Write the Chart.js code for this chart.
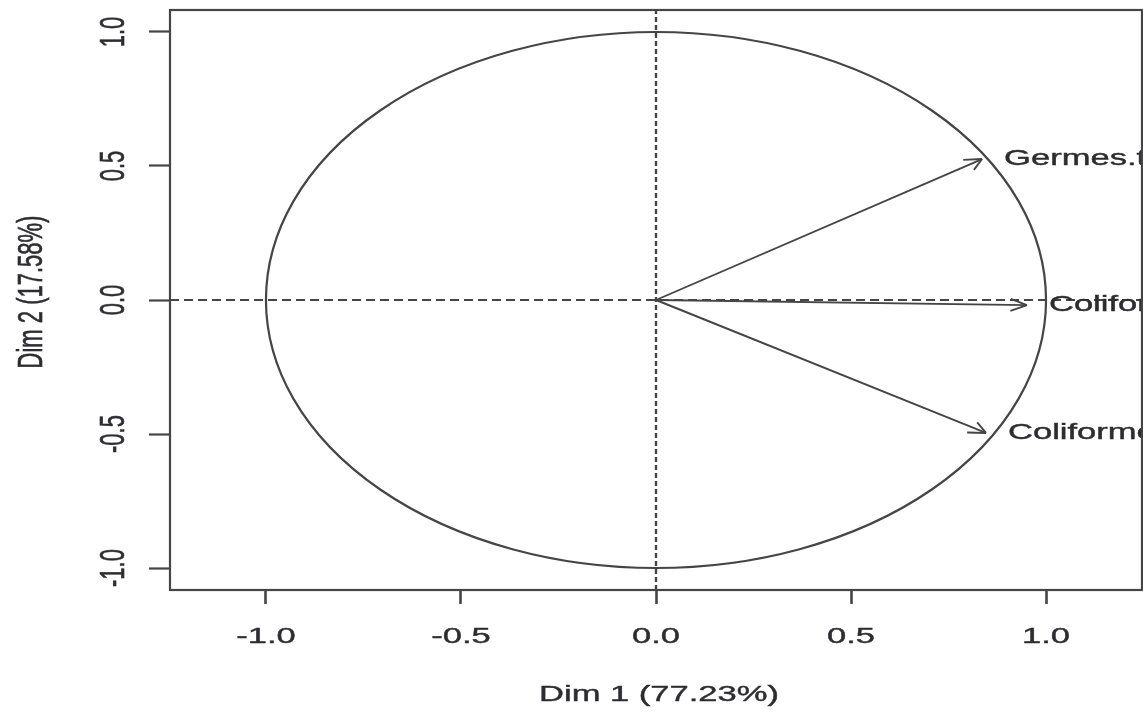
<!DOCTYPE html>
<html>
<head>
<meta charset="utf-8">
<title>Variables factor map (PCA)</title>
<script src="https://cdn.jsdelivr.net/npm/chart.js@4/dist/chart.umd.min.js"></script>
<style>
  html, body { margin: 0; padding: 0; background: #ffffff; }
  canvas { display: block; }
</style>
</head>
<body>
<canvas id="c" width="1143" height="713"></canvas>
<script>
// ---- data ----
const varNames = ['Germes.totaux', 'Coliformes.totaux', 'Coliformes.fecaux'];
const dim1 = [0.836, 0.951, 0.846];
const dim2 = [0.526, -0.019, -0.496];
const tickValues = [-1.0, -0.5, 0.0, 0.5, 1.0];
const tickLabels = ['-1.0', '-0.5', '0.0', '0.5', '1.0'];
const xTitle = 'Dim 1 (77.23%)';
const yTitle = 'Dim 2 (17.58%)';
const xRange = [-1.246, 1.246];
const yRange = [-1.082, 1.082];

// ---- styles ----
const LINE = '#454545';
const TEXT = '#2c2c32';
const FONT = '22px "Liberation Sans", Arial, sans-serif';
const SX = 1.57; // horizontal stretch of the original picture

function labelFor(v) {
  const i = tickValues.findIndex(t => Math.abs(t - v) < 1e-9);
  return i >= 0 ? tickLabels[i] : v.toFixed(1);
}

function stretchedText(ctx, text, x, y, align, rotate) {
  ctx.save();
  ctx.translate(x, y);
  ctx.scale(SX, 1);
  if (rotate) ctx.rotate(-Math.PI / 2);
  ctx.textAlign = align;
  ctx.textBaseline = 'middle';
  ctx.lineWidth = 0.4;
  ctx.strokeStyle = TEXT;
  ctx.fillText(text, 0, 0);
  ctx.strokeText(text, 0, 0);
  ctx.restore();
}

const arrowDatasets = varNames.map((n, i) => ({
  label: n,
  data: [{x: 0, y: 0}, {x: dim1[i], y: dim2[i]}],
  showLine: true,
  borderColor: LINE,
  borderWidth: 1.9,
  pointRadius: 0,
  fill: false
}));

const refDatasets = [
  {
    label: 'h0',
    data: [{x: xRange[0], y: 0}, {x: xRange[1], y: 0}],
    showLine: true, borderColor: LINE, borderWidth: 1.9, borderDash: [9, 5],
    pointRadius: 0, fill: false
  },
  {
    label: 'v0',
    data: [{x: 0, y: yRange[0]}, {x: 0, y: yRange[1]}],
    showLine: true, borderColor: LINE, borderWidth: 2.4, borderDash: [5, 3],
    pointRadius: 0, fill: false
  }
];

const pcaPlugin = {
  id: 'pcaPlugin',
  beforeDatasetsDraw(chart) {
    const {ctx, chartArea: a, scales: {x, y}} = chart;
    ctx.save();
    ctx.beginPath();
    ctx.rect(a.left, a.top, a.right - a.left, a.bottom - a.top);
    ctx.clip();
    const cx = x.getPixelForValue(0), cy = y.getPixelForValue(0);
    const rx = Math.abs(x.getPixelForValue(1) - cx);
    const ry = Math.abs(y.getPixelForValue(1) - cy);
    ctx.beginPath();
    ctx.ellipse(cx, cy, rx, ry, 0, 0, Math.PI * 2);
    ctx.strokeStyle = LINE;
    ctx.lineWidth = 2.2;
    ctx.stroke();
    ctx.restore();
  },
  afterDatasetsDraw(chart) {
    const {ctx, chartArea: a, scales: {x, y}} = chart;
    ctx.save();
    // arrow heads
    ctx.strokeStyle = LINE;
    ctx.lineWidth = 1.9;
    const x0 = x.getPixelForValue(0), y0 = y.getPixelForValue(0);
    for (let i = 0; i < varNames.length; i++) {
      const tx = x.getPixelForValue(dim1[i]);
      const ty = y.getPixelForValue(dim2[i]);
      const ang = Math.atan2(ty - y0, (tx - x0) / SX);
      const L = 12, da = Math.PI / 6;
      ctx.beginPath();
      for (const s of [-1, 1]) {
        const bx = tx - SX * L * Math.cos(ang + s * da);
        const by = ty - L * Math.sin(ang + s * da);
        ctx.moveTo(bx, by);
        ctx.lineTo(tx, ty);
      }
      ctx.stroke();
    }
    // variable labels
    ctx.fillStyle = TEXT;
    ctx.font = FONT;
    for (let i = 0; i < varNames.length; i++) {
      const tx = x.getPixelForValue(dim1[i]);
      const ty = y.getPixelForValue(dim2[i]);
      stretchedText(ctx, varNames[i], tx + 22, ty, 'left', false);
    }
    ctx.restore();
  },
  afterDraw(chart) {
    const {ctx, chartArea: a, scales: {x, y}} = chart;
    ctx.save();
    // plot box
    ctx.strokeStyle = LINE;
    ctx.lineWidth = 2.2;
    ctx.strokeRect(a.left, a.top, a.right - a.left, a.bottom - a.top);
    // tick labels
    ctx.fillStyle = TEXT;
    ctx.font = FONT;
    x.ticks.forEach(t => {
      stretchedText(ctx, labelFor(t.value), x.getPixelForValue(t.value), 637, 'center', false);
    });
    y.ticks.forEach(t => {
      stretchedText(ctx, labelFor(t.value), 114, y.getPixelForValue(t.value), 'center', true);
    });
    // axis titles
    stretchedText(ctx, xTitle, (a.left + a.right) / 2 + 3, 695, 'center', false);
    stretchedText(ctx, yTitle, 32, (a.top + a.bottom) / 2 - 8, 'center', true);
    ctx.restore();
  }
};

new Chart(document.getElementById('c'), {
  type: 'scatter',
  data: { datasets: [...refDatasets, ...arrowDatasets] },
  options: {
    responsive: false,
    animation: false,
    devicePixelRatio: 1,
    layout: { padding: { top: 10, right: 1, left: 0, bottom: 0 } },
    plugins: { legend: { display: false }, tooltip: { enabled: false } },
    scales: {
      x: {
        type: 'linear',
        min: xRange[0], max: xRange[1],
        ticks: { stepSize: 0.5, includeBounds: false, display: false },
        grid: { display: true, drawOnChartArea: false, drawTicks: true, tickLength: 14, tickWidth: 2.6, tickColor: LINE },
        border: { display: false },
        afterFit(s) { s.height = 123; }
      },
      y: {
        type: 'linear',
        min: yRange[0], max: yRange[1],
        ticks: { stepSize: 0.5, includeBounds: false, display: false },
        grid: { display: true, drawOnChartArea: false, drawTicks: true, tickLength: 21, tickWidth: 2.2, tickColor: LINE },
        border: { display: false },
        afterFit(s) { s.width = 170; }
      }
    }
  },
  plugins: [pcaPlugin]
});
</script>
</body>
</html>
